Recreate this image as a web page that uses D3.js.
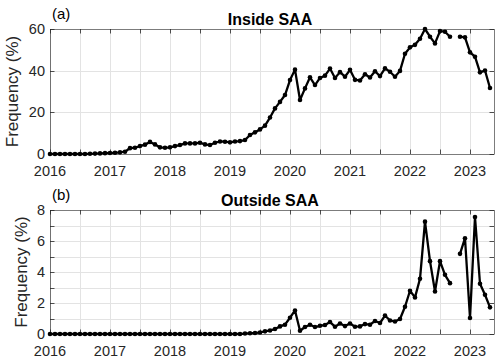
<!DOCTYPE html>
<html><head><meta charset="utf-8">
<script src="https://cdn.jsdelivr.net/npm/d3@7"></script>
<style>body{margin:0;background:#fff}svg{display:block}text{font-family:Arial,"Liberation Sans",Helvetica,sans-serif}</style>
</head><body>
<svg id="c" width="500" height="361"></svg>
<script>
// ---- data ----
const startYear = 2016;
const yearTicks = [2016, 2017, 2018, 2019, 2020, 2021, 2022, 2023];
const insideTicks = [0, 20, 40, 60];
const outsideTicks = [0, 2, 4, 6, 8];
// monthly frequency (%) Jan 2016 .. May 2023, null = missing month
const insideSAA = [
  0,0,0,0,0,0,0,0,
  0.1,0.2,0.3,0.4,0.5,0.6,0.8,1.1,
  2.8,3.0,3.8,4.5,5.8,4.6,3.2,3.0,
  3.2,3.8,4.3,5.1,5.1,5.1,5.4,4.6,
  4.3,5.4,6.0,5.9,5.6,6.0,6.2,6.7,
  9.1,10.4,11.8,13.6,17.5,21.9,25.0,28.3,
  35.5,40.5,25.9,31.5,36.8,33.1,36.5,37.6,
  41.0,36.5,39.3,37.1,40.4,35.6,35.3,38.3,
  36.7,39.7,37.4,41.1,39.5,37.1,39.9,48.1,
  51.2,52.4,55.3,60.0,56.3,53.1,59.0,58.7,
  56.3,null,56.3,56.0,48.8,46.7,39.2,40.1,31.7
];
const outsideSAA = [
  0,0,0,0,0,0,0,0,0,0,0,0,0,
  0,0,0,0,0,0,0,0,0,0,0,0,0,
  0,0,0,0,0,0,0,0,0,0,0,0,0,
  0.03,0.05,0.06,0.1,0.17,0.23,0.32,0.49,0.6,
  1.05,1.52,0.21,0.45,0.6,0.45,0.53,0.58,
  0.77,0.47,0.68,0.51,0.68,0.47,0.49,0.64,
  0.6,0.84,0.71,1.19,0.87,0.81,0.97,1.76,
  2.79,2.36,3.56,7.25,4.7,2.74,4.7,3.82,
  3.28,null,5.17,6.18,1.03,7.55,3.24,2.53,1.72
];
const months = insideSAA.map((_, i) => startYear + i / 12);

// ---- drawing ----
const svg = d3.select("#c");
const axisCol = "#262626";
const x = d3.scaleLinear().domain([2016, 2023.4]).range([50, 494]);

function panel(opts) {
  const {top, bottom, yMax, yTicks, gridStep, minorStep, values, title, tag, labelX} = opts;
  const y = d3.scaleLinear().domain([0, yMax]).range([bottom, top]);
  const g = svg.append("g");
  const x0 = x.range()[0], x1 = x.range()[1];
  // grid
  const halfYears = d3.range(2016, 2023.41, 0.5);
  g.selectAll(".gx").data(halfYears).join("line")
    .attr("x1", d => Math.round(x(d)) + 0.5).attr("x2", d => Math.round(x(d)) + 0.5)
    .attr("y1", top).attr("y2", bottom).attr("stroke", "#e3e3e3").attr("stroke-width", 1);
  const gy = d3.range(gridStep, yMax, gridStep);
  g.selectAll(".gy").data(gy).join("line")
    .attr("x1", x0).attr("x2", x1)
    .attr("y1", d => Math.round(y(d)) + 0.5).attr("y2", d => Math.round(y(d)) + 0.5)
    .attr("stroke", "#e3e3e3").attr("stroke-width", 1);
  // ticks (inward, mirrored)
  const tl = 4.5;
  halfYears.forEach(d => {
    const xx = Math.round(x(d)) + 0.5;
    g.append("line").attr("x1", xx).attr("x2", xx).attr("y1", bottom).attr("y2", bottom - tl).attr("stroke", axisCol).attr("stroke-width", 0.8);
    g.append("line").attr("x1", xx).attr("x2", xx).attr("y1", top).attr("y2", top + tl).attr("stroke", axisCol).attr("stroke-width", 0.8);
  });
  d3.range(0, yMax + 0.001, minorStep).forEach(d => {
    const yy = Math.round(y(d)) + 0.5;
    g.append("line").attr("x1", x0).attr("x2", x0 + tl).attr("y1", yy).attr("y2", yy).attr("stroke", axisCol).attr("stroke-width", 0.8);
    g.append("line").attr("x1", x1).attr("x2", x1 - tl).attr("y1", yy).attr("y2", yy).attr("stroke", axisCol).attr("stroke-width", 0.8);
  });
  // box
  g.append("rect").attr("x", x0 + 0.5).attr("y", Math.round(top) + 0.5)
    .attr("width", x1 - x0).attr("height", Math.round(bottom) - Math.round(top))
    .attr("fill", "none").attr("stroke", axisCol).attr("stroke-width", 0.6);
  // tick labels
  g.selectAll(".xl").data(yearTicks).join("text")
    .attr("x", d => x(d)).attr("y", bottom + 22).attr("text-anchor", "middle")
    .attr("font-size", 14.5).attr("fill", axisCol).text(d => d);
  g.selectAll(".yl").data(yTicks).join("text")
    .attr("x", x0 - 5).attr("y", d => y(d) + 5).attr("text-anchor", "end")
    .attr("font-size", 14.5).attr("fill", axisCol).text(d => d);
  // y label
  g.append("text").attr("transform", `translate(${labelX},${(top + bottom) / 2}) rotate(-90)`)
    .attr("text-anchor", "middle").attr("font-size", 17).attr("fill", axisCol).text("Frequency (%)");
  // title and tag
  g.append("text").attr("x", 270).attr("y", top - 4).attr("text-anchor", "middle")
    .attr("font-size", 16).attr("font-weight", "bold").attr("fill", "#000").text(title);
  g.append("text").attr("x", 52).attr("y", top - 10).attr("font-size", 15).attr("fill", "#000").text(tag);
  // line and markers
  const pts = months.map((m, i) => ({m, v: values[i]}));
  const line = d3.line().defined(d => d.v !== null).x(d => x(d.m)).y(d => y(d.v));
  g.append("path").datum(pts).attr("d", line).attr("fill", "none")
    .attr("stroke", "#000").attr("stroke-width", 2.3).attr("stroke-linejoin", "round");
  g.selectAll(".pt").data(pts.filter(d => d.v !== null)).join("circle")
    .attr("cx", d => x(d.m)).attr("cy", d => y(d.v)).attr("r", 2.3).attr("fill", "#000");
}

panel({top: 29, bottom: 154, yMax: 60, yTicks: insideTicks, gridStep: 20, minorStep: 20,
  values: insideSAA, title: "Inside SAA", tag: "(a)", labelX: 18});
panel({top: 210, bottom: 334, yMax: 8, yTicks: outsideTicks, gridStep: 1, minorStep: 1,
  values: outsideSAA, title: "Outside SAA", tag: "(b)", labelX: 27});
</script>
</body></html>
